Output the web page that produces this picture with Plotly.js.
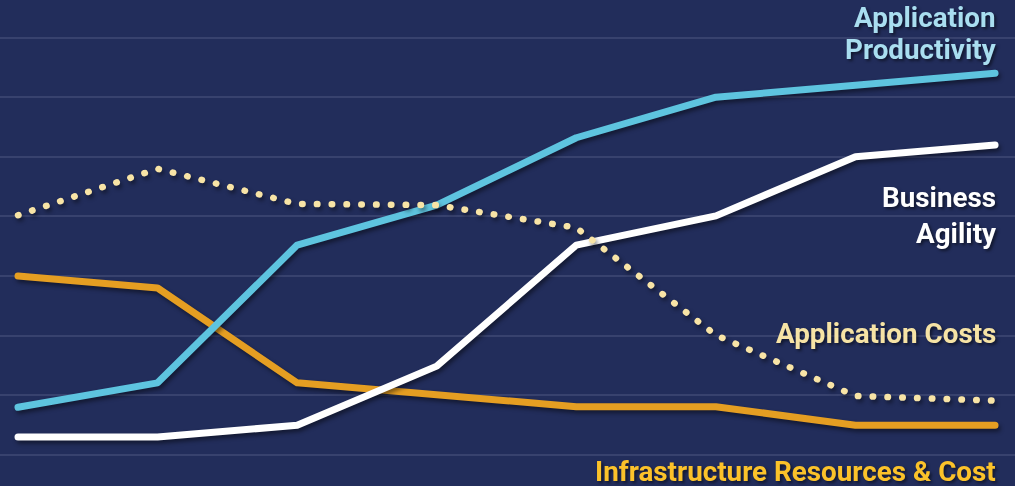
<!DOCTYPE html>
<html>
<head>
<meta charset="utf-8">
<script src="https://cdn.plot.ly/plotly-3.0.1.min.js"></script>
<style>
  html, body { margin: 0; padding: 0; background: #222d5b; }
  #chart { width: 1015px; height: 486px; }
  .js-line { stroke-linecap: round; stroke-linejoin: round; }
  .scatterlayer .trace { filter: drop-shadow(2px 3px 2px rgba(0,0,0,0.45)); }
  .annotation { filter: drop-shadow(2px 2px 1.5px rgba(0,0,0,0.5)); }
</style>
</head>
<body>
<div id="chart"></div>
<script>
// Periods (x positions 0..7)
const periods = [0, 1, 2, 3, 4, 5, 6, 7];

// Series values (grid units)
const applicationProductivity = [0.80, 1.21, 3.52, 4.19, 5.32, 6.00, 6.20, 6.40];
const businessAgility        = [0.30, 0.30, 0.50, 1.49, 3.52, 4.01, 5.00, 5.20];
const infrastructureCost     = [3.00, 2.80, 1.21, 1.01, 0.81, 0.81, 0.50, 0.50];
const applicationCosts       = [4.02, 4.80, 4.21, 4.19, 3.81, 2.01, 0.99, 0.91];

// Label lines
const labelProductivity = ["Application", "Productivity"];
const labelAgility = ["Business", "Agility"];
const labelAppCosts = ["Application Costs"];
const labelInfra = ["Infrastructure Resources & Cost"];

const traces = [
  { x: periods, y: infrastructureCost, mode: 'lines', line: { color: '#e59e22', width: 7 } },
  { x: periods, y: businessAgility, mode: 'lines', line: { color: '#ffffff', width: 7 } },
  { x: periods, y: applicationProductivity, mode: 'lines', line: { color: '#5ec4df', width: 7 } },
  { x: periods, y: applicationCosts, mode: 'lines', line: { color: '#f8e4a6', width: 6.5, dash: '0.5px,14.3px' } }
];

const fontBase = { family: 'Roboto, "Open Sans", sans-serif', size: 27.8, weight: 700 };

function ann(text, yPx, color) {
  return {
    text: text, xref: 'x', x: 7, xanchor: 'right', xshift: 2,
    yref: 'paper', y: 1 - yPx / 486, yanchor: 'top',
    showarrow: false, align: 'right', borderpad: 0,
    font: Object.assign({}, fontBase, { color: color })
  };
}

const layout = {
  width: 1015, height: 486,
  margin: { l: 0, r: 0, t: 0, b: 0 },
  paper_bgcolor: '#222d5b', plot_bgcolor: '#222d5b',
  showlegend: false,
  xaxis: { range: [-0.129, 7.143], showgrid: false, zeroline: false, showticklabels: false, ticks: '', showline: false },
  yaxis: { range: [-0.52, 7.63], tick0: 0, dtick: 1, showgrid: true, gridcolor: '#38426e', gridwidth: 2,
           zeroline: false, showticklabels: false, ticks: '', showline: false },
  annotations: [
    ann(labelProductivity[0], 0, '#a9def0'),
    ann(labelProductivity[1], 32, '#a9def0'),
    ann(labelAgility[0], 179.5, '#ffffff'),
    ann(labelAgility[1], 215.5, '#ffffff'),
    ann(labelAppCosts[0], 315.5, '#f6e3a5'),
    ann(labelInfra[0], 454, '#fbc22a')
  ]
};

Plotly.newPlot('chart', traces, layout, { displayModeBar: false, staticPlot: true });
</script>
</body>
</html>
